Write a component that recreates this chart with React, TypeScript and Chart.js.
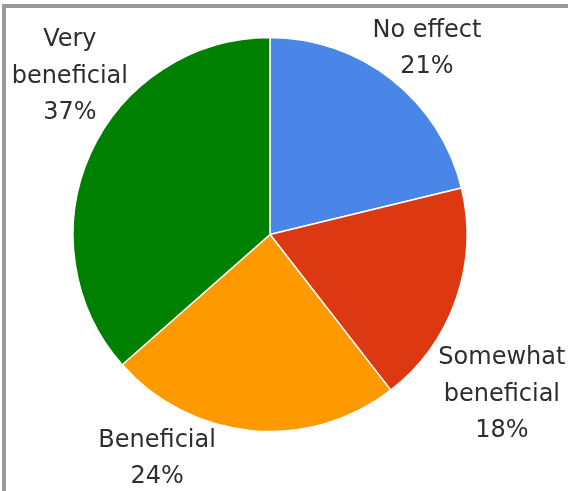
import React, { useEffect, useRef } from "react";
import { Chart, registerables } from "chart.js";

Chart.register(...registerables);

const categories = ["No effect", "Somewhat beneficial", "Beneficial", "Very beneficial"];
const labelLines = [["No effect"], ["Somewhat", "beneficial"], ["Beneficial"], ["Very", "beneficial"]];
const values = [21.2, 18.3, 24.0, 36.5];
const colors = ["#4a86e8", "#dc3912", "#ff9900", "#008000"];

// label layout: angle (deg clockwise from top) and distance as multiple of radius
const labelAngles = [39.8, 124.2, 207.0, 308.7];
const labelDist = [1.245, 1.423, 1.262, 1.302];

const FONT_SIZE = 24;
const LINE_H = 36.5;

const labelPlugin = {
  id: "outsideLabels",
  afterDraw(chart: any) {
    const meta = chart.getDatasetMeta(0);
    if (!meta || !meta.data.length) return;
    const arc = meta.data[0];
    const cx = arc.x;
    const cy = arc.y;
    const r = arc.outerRadius;
    const total = values.reduce((a, b) => a + b, 0);
    const ctx = chart.ctx;
    ctx.save();
    ctx.font = `${FONT_SIZE}px "DejaVu Sans"`;
    ctx.fillStyle = "#2e2e2e";
    ctx.textAlign = "center";
    ctx.textBaseline = "alphabetic";
    const capH = FONT_SIZE * 0.729;
    values.forEach((v, i) => {
      const pct = Math.round((v * 100) / total) + "%";
      const lines = [...labelLines[i], pct];
      const a = (labelAngles[i] * Math.PI) / 180;
      const d = labelDist[i] * r;
      const lx = cx + d * Math.sin(a);
      const ly = cy - d * Math.cos(a);
      const first = ly - ((lines.length - 1) * LINE_H) / 2 + capH / 2;
      lines.forEach((t, k) => {
        ctx.fillText(t, lx, first + k * LINE_H);
      });
    });
    ctx.restore();
  },
};

export default function App() {
  const ref = useRef<HTMLCanvasElement | null>(null);
  useEffect(() => {
    if (!ref.current) return;
    const chart = new Chart(ref.current, {
      type: "pie",
      data: {
        labels: categories,
        datasets: [
          {
            data: values,
            backgroundColor: colors,
            borderColor: "#ffffff",
            borderWidth: 1.5,
            hoverOffset: 0,
            offset: 0,
          },
        ],
      },
      options: {
        responsive: false,
        animation: false,
        devicePixelRatio: 1,
        radius: 197,
        layout: { padding: { left: 73, right: 101, top: 37.5, bottom: 59.5 } },
        plugins: {
          legend: { display: false },
          tooltip: { enabled: false },
        },
      } as any,
      plugins: [labelPlugin],
    });
    return () => chart.destroy();
  }, []);

  return (
    <div style={{ position: "fixed", left: 0, top: 0, width: 568, height: 491, overflow: "hidden", background: "#fff" }}>
      <div
        style={{
          position: "absolute",
          left: 2,
          top: 4,
          width: 800,
          height: 800,
          border: "4px solid #999999",
          boxSizing: "border-box",
        }}
      />
      <canvas ref={ref} width={568} height={491} style={{ position: "absolute", left: 0, top: 0, width: 568, height: 491 }} />
    </div>
  );
}
